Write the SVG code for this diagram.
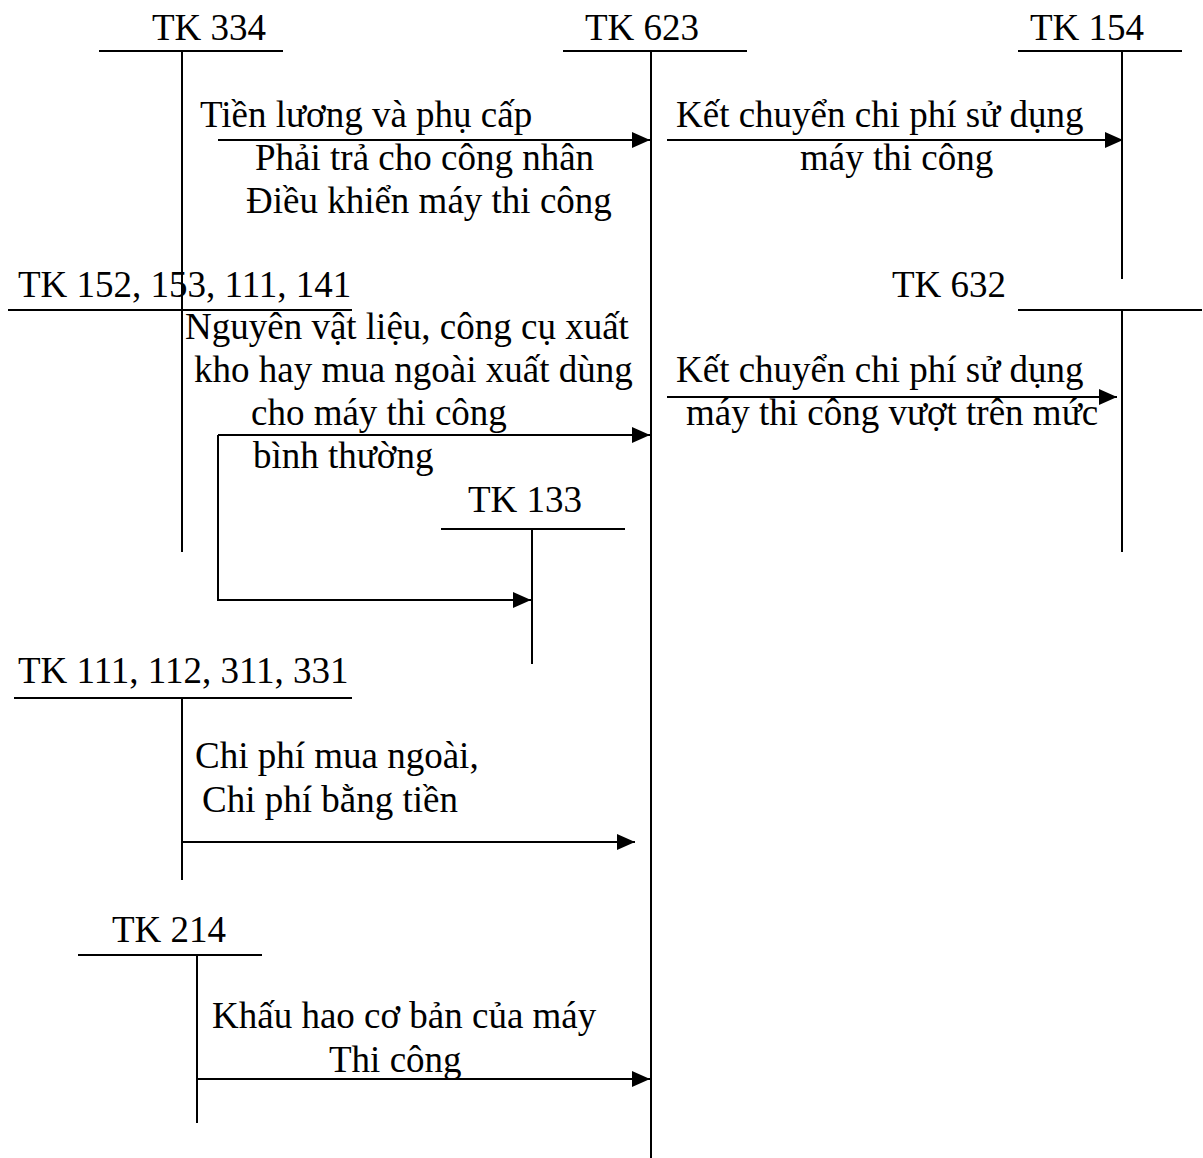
<svg xmlns="http://www.w3.org/2000/svg" width="1203" height="1158" viewBox="0 0 1203 1158">
<style>
text{font-family:"Liberation Serif","Times New Roman",serif;font-size:37px;fill:#000}
.ln{stroke:#000;stroke-width:2;fill:none}
</style>
<defs>
<marker id="ah" markerWidth="20" markerHeight="18" refX="18" refY="8" orient="auto" markerUnits="userSpaceOnUse">
<path d="M0,0 L18,8 L0,16 Z" fill="#000"/>
</marker>
</defs>
<rect width="1203" height="1158" fill="#fff"/>
<g id="tk334">
<text x="152" y="40">TK 334</text>
<line class="ln" x1="99" y1="51" x2="283" y2="51"/>
<line class="ln" x1="182" y1="51" x2="182" y2="552"/>
</g>
<g id="tk623">
<text x="585" y="40">TK 623</text>
<line class="ln" x1="563" y1="51" x2="747" y2="51"/>
<line class="ln" x1="651" y1="51" x2="651" y2="1158"/>
</g>
<g id="tk154">
<text x="1030" y="40">TK 154</text>
<line class="ln" x1="1018" y1="51" x2="1182" y2="51"/>
<line class="ln" x1="1122" y1="51" x2="1122" y2="279"/>
</g>
<g id="tk152">
<text x="18" y="297">TK 152, 153, 111, 141</text>
<line class="ln" x1="8" y1="310" x2="352" y2="310"/>
</g>
<g id="tk632">
<text x="892" y="297">TK 632</text>
<line class="ln" x1="1018" y1="310" x2="1202" y2="310"/>
<line class="ln" x1="1122" y1="310" x2="1122" y2="552"/>
</g>
<g id="tk133">
<text x="468" y="512">TK 133</text>
<line class="ln" x1="441" y1="529" x2="625" y2="529"/>
<line class="ln" x1="532" y1="529" x2="532" y2="664"/>
</g>
<g id="tk111">
<text x="18" y="683">TK 111, 112, 311, 331</text>
<line class="ln" x1="14" y1="698" x2="352" y2="698"/>
<line class="ln" x1="182" y1="698" x2="182" y2="880"/>
</g>
<g id="tk214">
<text x="112" y="942">TK 214</text>
<line class="ln" x1="78" y1="955" x2="262" y2="955"/>
<line class="ln" x1="197" y1="955" x2="197" y2="1123"/>
</g>
<g id="connectors">
<line class="ln" x1="218" y1="140" x2="650" y2="140" marker-end="url(#ah)"/>
<line class="ln" x1="667" y1="140" x2="1123" y2="140" marker-end="url(#ah)"/>
<line class="ln" x1="218" y1="435" x2="650" y2="435" marker-end="url(#ah)"/>
<polyline class="ln" points="218,435 218,600 531,600" marker-end="url(#ah)"/>
<line class="ln" x1="667" y1="397" x2="1117" y2="397" marker-end="url(#ah)"/>
<line class="ln" x1="182" y1="842" x2="635" y2="842" marker-end="url(#ah)"/>
<line class="ln" x1="197" y1="1079" x2="650" y2="1079" marker-end="url(#ah)"/>
</g>
<g id="labels">
<text x="200" y="127">Tiền lương và phụ cấp</text>
<text x="255" y="170">Phải trả cho công nhân</text>
<text x="246" y="213">Điều khiển máy thi công</text>
<text x="676" y="127">Kết chuyển chi phí sử dụng</text>
<text x="800" y="170">máy thi công</text>
<text x="185" y="339">Nguyên vật liệu, công cụ xuất</text>
<text x="194" y="382">kho hay mua ngoài xuất dùng</text>
<text x="251" y="425">cho máy thi công</text>
<text x="253" y="468">bình thường</text>
<text x="676" y="382">Kết chuyển chi phí sử dụng</text>
<text x="686" y="425">máy thi công vượt trên mức</text>
<text x="195" y="768">Chi phí mua ngoài,</text>
<text x="202" y="812">Chi phí bằng tiền</text>
<text x="212" y="1028">Khấu hao cơ bản của máy</text>
<text x="329" y="1072">Thi công</text>
</g>
</svg>
